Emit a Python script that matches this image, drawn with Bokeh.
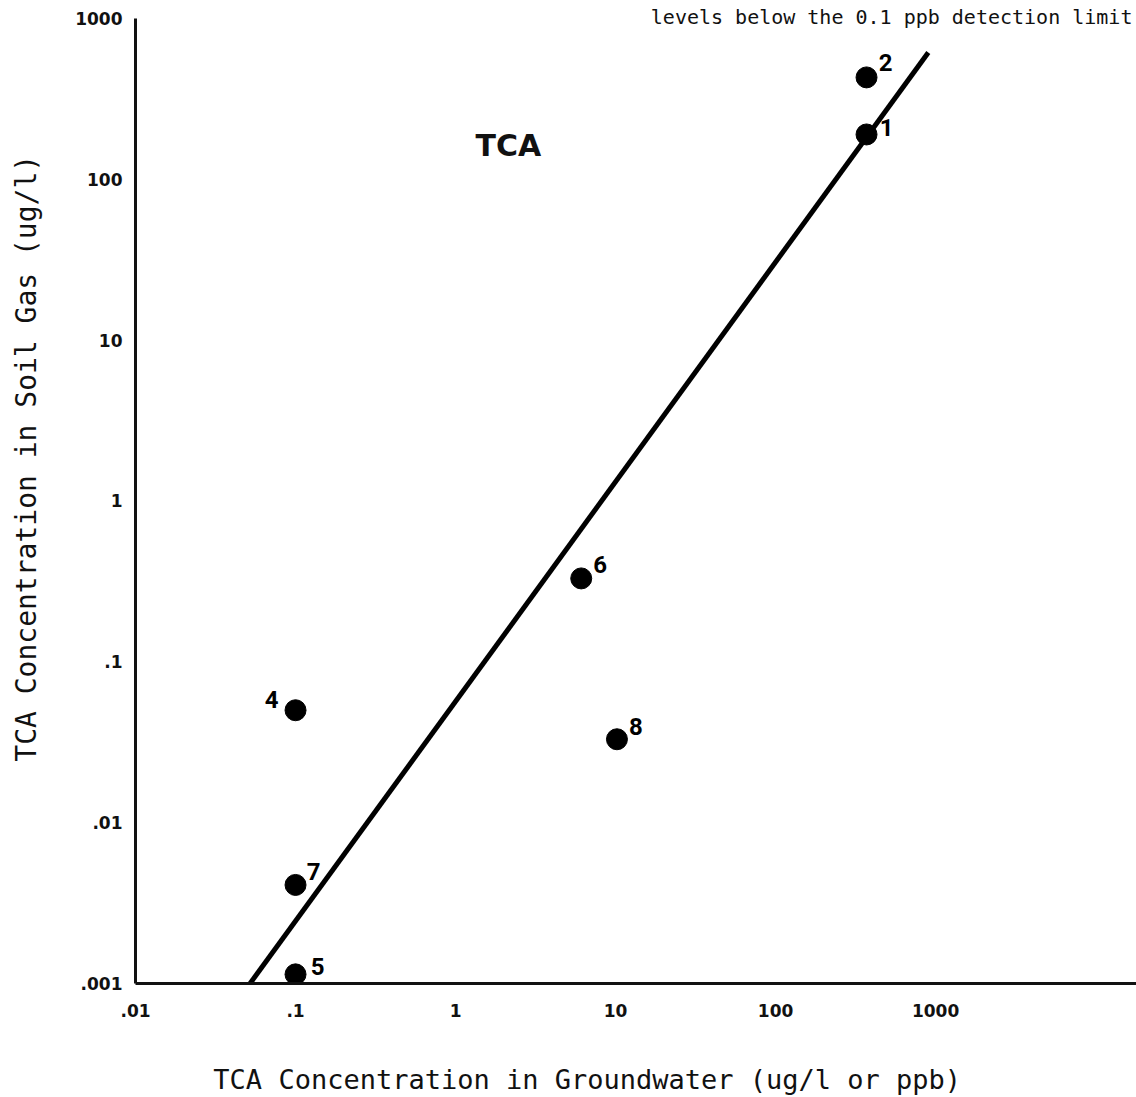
from bokeh.plotting import figure
from bokeh.models import ColumnDataSource, FixedTicker, Label, Range1d
from bokeh.core.properties import value
from bokeh.embed import file_html
from bokeh.resources import INLINE

# ---- data ----
sample_ids = ["1", "2", "4", "5", "6", "7", "8"]
groundwater_tca = [370, 370, 0.1, 0.1, 6.1, 0.1, 10.2]        # ug/l (ppb)
soil_gas_tca = [190, 430, 0.050, 0.00114, 0.33, 0.0041, 0.033]  # ug/l

fit_groundwater = [0.052, 900]
fit_soil_gas = [0.001, 615]

x_ticks = [0.01, 0.1, 1, 10, 100, 1000]
x_tick_labels = [".01", ".1", "1", "10", "100", "1000"]
y_ticks = [0.001, 0.01, 0.1, 1, 10, 100, 1000]
y_tick_labels = [".001", ".01", ".1", "1", "10", "100", "1000"]

x_title = "TCA Concentration in Groundwater (ug/l or ppb)"
y_title = "TCA Concentration in Soil Gas (ug/l)"
panel_label = "TCA"
top_note = "levels below the 0.1 ppb detection limit"

# ---- label styling (pixel offsets of the sample numbers) ----
label_dx = [20, 19, -24, 22, 19, 18, 19]
label_dy = [-7, -15, -11, -8, -14, -13, -13]

src = ColumnDataSource(dict(gw=groundwater_tca, sg=soil_gas_tca, id=sample_ids,
                            dx=label_dx, dy=label_dy))

NBSP = "\u00a0"  # used to shift the centred axis titles off-centre, as in the original

p = figure(width=1136, height=1097, x_axis_type="log", y_axis_type="log",
           x_range=Range1d(0.01, 18000), y_range=Range1d(0.001, 1293),
           output_backend="svg", toolbar_location=None,
           min_border_left=135, min_border_right=0, min_border_top=0,
           min_border_bottom=112)
p.outline_line_color = None
p.grid.visible = False
p.background_fill_color = "white"
p.border_fill_color = "white"

for ax, ticks, labels, standoff in ((p.xaxis[0], x_ticks, x_tick_labels, 14),
                                    (p.yaxis[0], y_ticks, y_tick_labels, 7)):
    ax.ticker = FixedTicker(ticks=ticks, minor_ticks=[])
    ax.major_label_overrides = dict(zip(ticks, labels))
    ax.major_tick_line_color = None
    ax.minor_tick_line_color = None
    ax.axis_line_width = 3
    ax.axis_line_color = "#111111"
    ax.major_label_text_font = "DejaVu Sans"
    ax.major_label_text_font_style = "bold"
    ax.major_label_text_font_size = "17px"
    ax.major_label_text_color = "#111111"
    ax.major_label_standoff = standoff
    ax.axis_label_text_font = "DejaVu Sans Mono"
    ax.axis_label_text_font_style = "normal"
    ax.axis_label_text_color = "#111111"
p.yaxis[0].bounds = (y_ticks[0], y_ticks[-1])

p.xaxis[0].axis_label = x_title + NBSP * 6
p.xaxis[0].axis_label_text_font_size = "27px"
p.xaxis[0].axis_label_standoff = 44
p.yaxis[0].axis_label = NBSP * 4 + y_title
p.yaxis[0].axis_label_text_font_size = "28px"
p.yaxis[0].axis_label_standoff = 29

p.line(fit_groundwater, fit_soil_gas, line_width=5, line_color="black")
p.scatter(x="gw", y="sg", size=21, fill_color="black", line_color="black", source=src)
p.text(x="gw", y="sg", text="id", x_offset="dx", y_offset="dy",
       text_font=value("Roboto"), text_font_style="bold", text_font_size="24px",
       text_align="center", text_baseline="middle", text_color="black", source=src)

p.add_layout(Label(x=2.14, y=163, text=panel_label, text_font="DejaVu Sans",
                   text_font_style="bold", text_font_size="30px",
                   text_align="center", text_baseline="middle", text_color="#111111"))
p.add_layout(Label(x=16.6, y=1014, text=top_note, text_font="DejaVu Sans Mono",
                   text_font_size="20px", text_align="left", text_baseline="alphabetic",
                   text_color="#111111"))

open("out.html", "w").write(file_html(p, INLINE))
